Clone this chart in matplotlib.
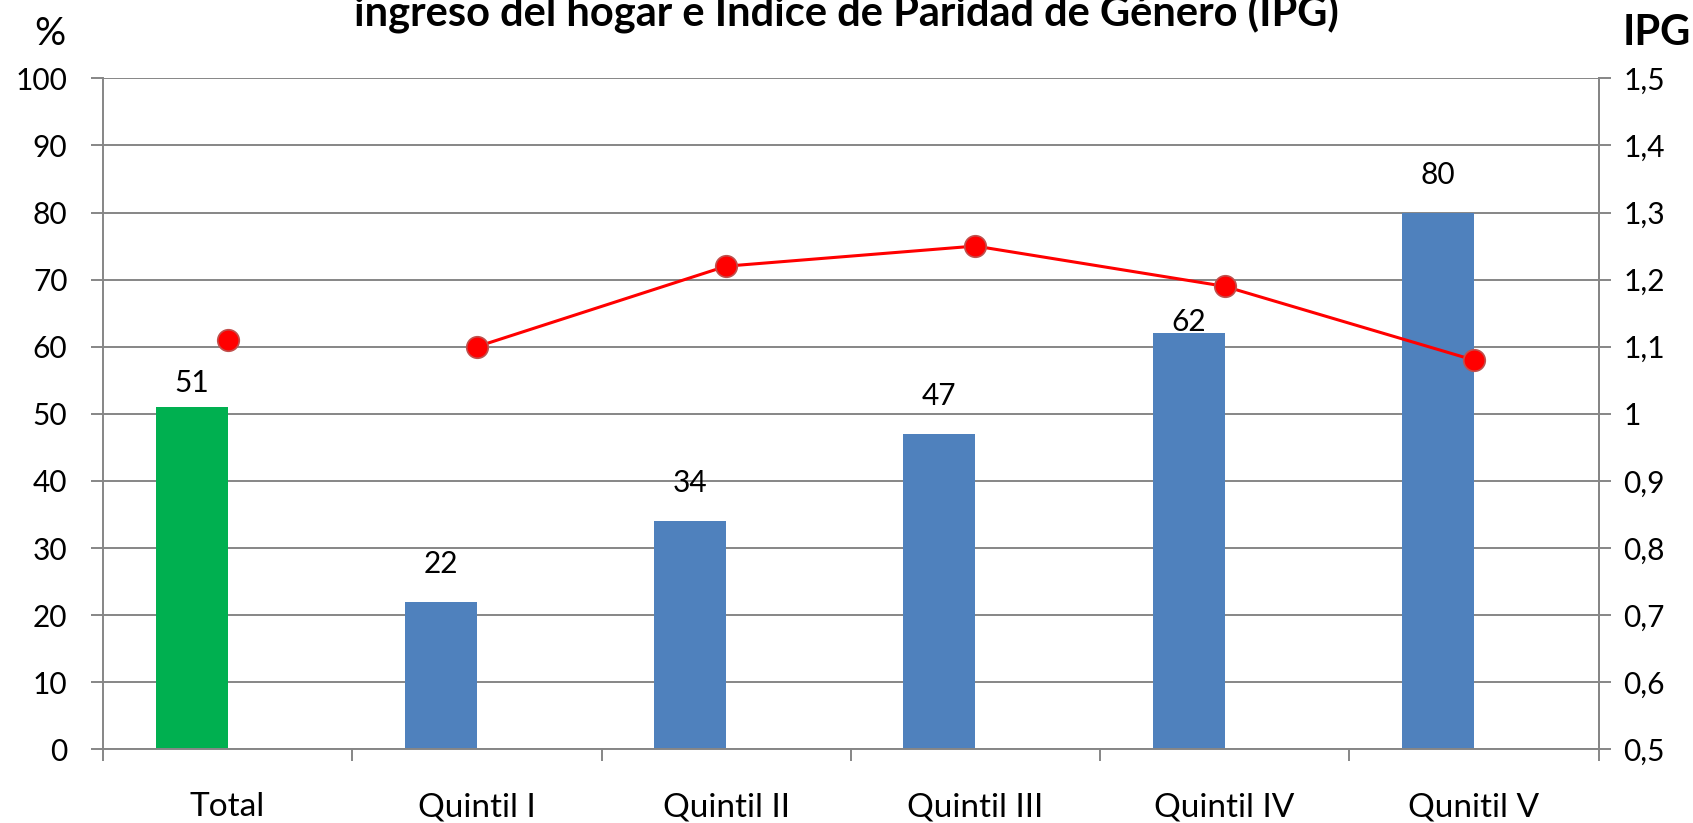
import numpy as np
import matplotlib
matplotlib.use("Agg")
from matplotlib import pyplot as plt
from matplotlib.ticker import FixedLocator

# data
categories = ["Total", "Quintil I", "Quintil II", "Quintil III", "Quintil IV", "Qunitil V"]
pct_values = [51, 22, 34, 47, 62, 80]
ipg_values = [1.11, 1.10, 1.22, 1.25, 1.19, 1.08]
bar_colors = ["#00B050", "#4F81BD", "#4F81BD", "#4F81BD", "#4F81BD", "#4F81BD"]
left_ticks = list(range(0, 101, 10))
right_ticks = [0.5, 0.6, 0.7, 0.8, 0.9, 1.0, 1.1, 1.2, 1.3, 1.4, 1.5]
right_labels = ["0,5", "0,6", "0,7", "0,8", "0,9", "1", "1,1", "1,2", "1,3", "1,4", "1,5"]

# label lift above each bar, in pixels (style only)
label_lift = [10, 24, 24, 24, -3, 24]

plt.rcParams['font.family'] = ['Lato', 'DejaVu Sans']
FS = 21.5
GRID = "#868686"

fig = plt.figure(figsize=(16.93, 8.23), dpi=100)
ax = fig.add_axes([103 / 1693, 1 - 749.3 / 823, (1598.5 - 103) / 1693, (749.3 - 78.3) / 823])

x = np.arange(len(categories))
w = 0.289
bars = ax.bar(x, pct_values, width=-w, align="edge", color=bar_colors, zorder=2)

for xi, v, lift in zip(x, pct_values, label_lift):
    ax.annotate(str(v), (xi - w / 2, v), xytext=(0, lift * 0.72), textcoords="offset points",
                ha="center", va="bottom", fontsize=FS, color="black", zorder=5)

ax.set_xlim(-0.5, len(categories) - 0.5)
ax.set_ylim(0, 100)
ax.set_yticks(left_ticks)
ax.set_yticklabels([str(t) for t in left_ticks])
ax.yaxis.grid(True, color=GRID, linewidth=1.4, zorder=0)
ax.set_axisbelow(True)

ax.set_xticks(x)
ax.set_xticklabels(categories)
ax.xaxis.set_minor_locator(FixedLocator(np.arange(-0.5, len(categories), 1.0)))
ax.tick_params(axis="x", which="major", length=0, pad=31, labelsize=24)
ax.tick_params(axis="x", which="minor", length=8.6, width=1.4, color=GRID, direction="out")
ax.tick_params(axis="y", length=8.6, width=1.4, color=GRID, pad=17, labelsize=FS)

for side in ["left", "bottom", "right"]:
    ax.spines[side].set_color(GRID)
    ax.spines[side].set_linewidth(1.4)
ax.spines["top"].set_visible(False)

ax2 = ax.twinx()
ax2.set_ylim(0.5, 1.5)
ax2.set_yticks(right_ticks)
ax2.set_yticklabels(right_labels)
ax2.tick_params(axis="y", length=8.6, width=1.4, color=GRID, pad=9.4, labelsize=FS)
for side in ["left", "bottom", "right", "top"]:
    ax2.spines[side].set_visible(False)
ax2.spines["right"].set_visible(True)
ax2.spines["right"].set_color(GRID)
ax2.spines["right"].set_linewidth(1.4)

# Total is a separate point, quintiles are joined
ax2.plot(x[:1], ipg_values[:1], marker="o", linestyle="none", markersize=15.5,
         markerfacecolor="#FF0000", markeredgecolor="#C0504D", markeredgewidth=1.2, zorder=4)
ax2.plot(x[1:], ipg_values[1:], color="#FF0000", linewidth=2.2, marker="o", markersize=15.5,
         markerfacecolor="#FF0000", markeredgecolor="#C0504D", markeredgewidth=1.2, zorder=4)

fig.text(846 / 1693, 1 - 27 / 823, "ingreso del hogar e Índice de Paridad de Género (IPG)",
         ha="center", va="baseline", fontsize=30, fontweight="bold")
fig.text(50 / 1693, 1 - 45 / 823, "%", ha="center", va="baseline", fontsize=28)
fig.text(1623 / 1693, 1 - 45 / 823, "IPG", ha="left", va="baseline", fontsize=30, fontweight="bold")

fig.savefig("out.png", dpi=100)
